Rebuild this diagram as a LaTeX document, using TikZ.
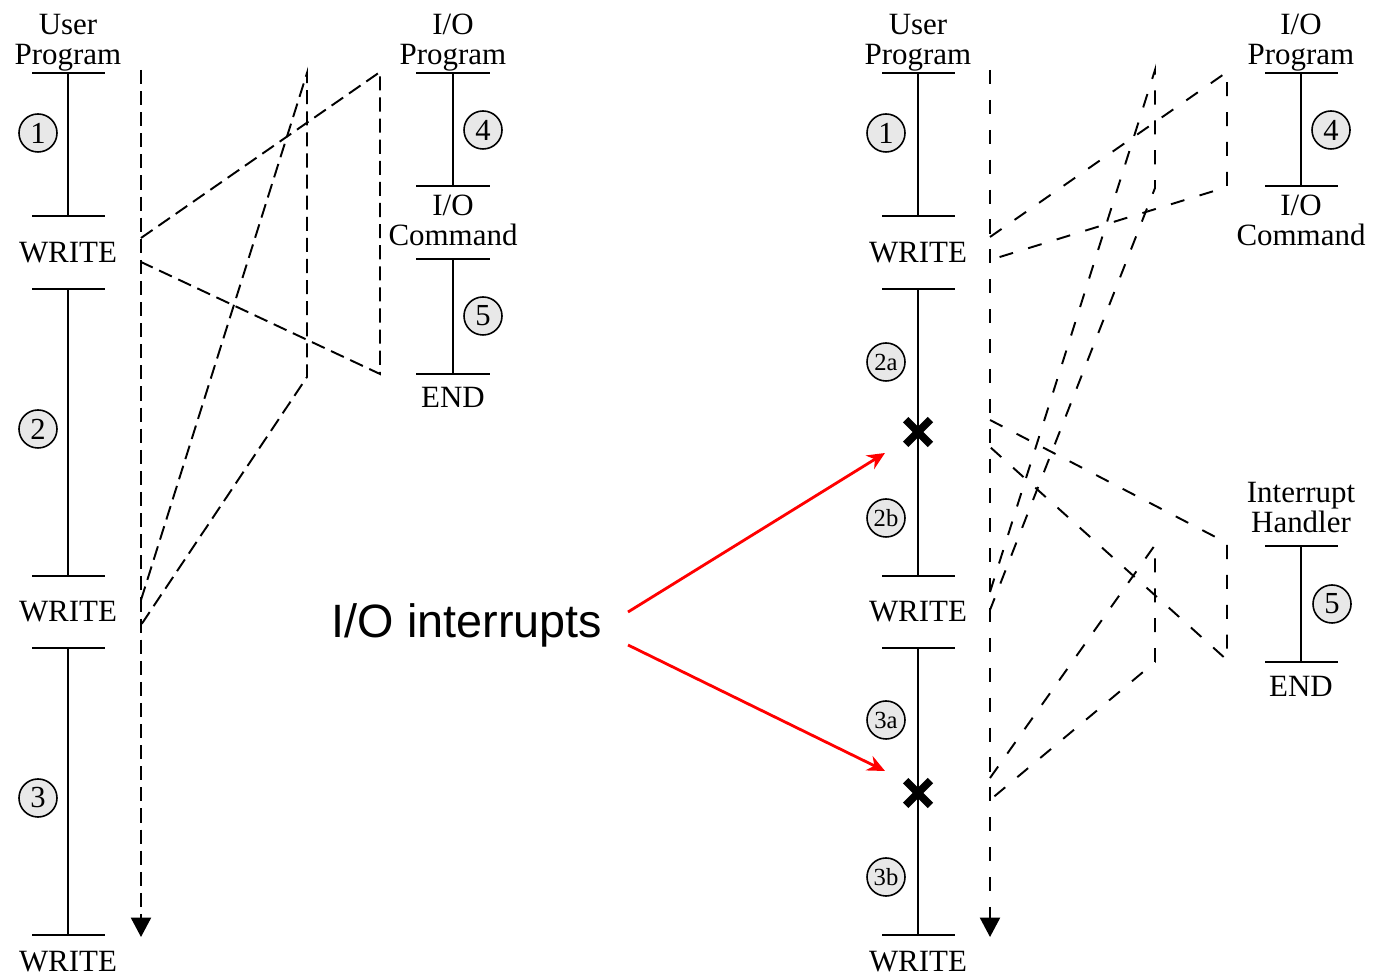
\documentclass[tikz,border=0pt]{standalone}
\usepackage{fontspec}
\setmainfont{Liberation Serif}
\newfontfamily\notefont{Liberation Sans}
\usetikzlibrary{arrows.meta, positioning, shapes.misc}

\tikzset{
	prog/.style={line width=0.6pt},
	numcirc/.style={circle, draw, line width=0.45pt, fill=gray!18, minimum size=0.38cm, inner sep=0pt, font=\fontsize{8.7}{9}\selectfont},
	subcirc/.style={numcirc, font=\fontsize{7}{8}\selectfont},
	lbl/.style={align=center, inner sep=0pt, font=\fontsize{8.8}{8.6}\selectfont},
	flowA/.style={line width=0.55pt, dash pattern=on 4pt off 2pt},
	flowB/.style={line width=0.55pt, dash pattern=on 4pt off 4.5pt},
	xmark/.style={cross out, draw, line width=2.2pt, minimum size=0.17cm, inner sep=0pt},
	irq/.style={red, line width=0.8pt, -{Stealth[length=5pt, width=4.5pt]}}
}

\begin{document}
\begin{tikzpicture}[x={(0.01cm,0cm)}, y={(0cm,-0.01cm)}]
	\useasboundingbox (0,0) rectangle (1373,977);
	
	% ---------- (a) no interrupts ----------
	% user program
	\node[lbl, anchor=south] (uprogA) at (68,72) {User\\Program};
	\foreach \a/\b in {73/216, 289/576, 648/935} {
		\draw[prog] (32,\a) -- (105,\a) (68,\a) -- (68,\b) (32,\b) -- (105,\b);
	}
	\node[lbl] (writeA1) at (68,253) {WRITE};
	\node[lbl] (writeA2) at (68,612) {WRITE};
	\node[lbl] (writeA3) at (68,962) {WRITE};
	\node[numcirc] (segA1) at (38,133) {1};
	\node[numcirc] (segA2) at (38,429) {2};
	\node[numcirc] (segA3) at (38,798) {3};
	
	% I/O program
	\node[lbl, anchor=south] (ioprogA) at (453,72) {I/O\\Program};
	\foreach \a/\b in {73/186, 259/374} {
		\draw[prog] (416,\a) -- (490,\a) (453,\a) -- (453,\b) (416,\b) -- (490,\b);
	}
	\node[lbl, anchor=south] (iocmdA) at (453,247) {I/O\\Command};
	\node[lbl] (endA) at (453,397) {END};
	\node[numcirc] (segA4) at (483,130) {4};
	\node[numcirc] (segA5) at (483,316) {5};
	
	% flow of control
	\coordinate (runA0) at (141,70);
	\coordinate (runA9) at (141,937);
	\coordinate (callA1) at (141,238);
	\coordinate (backA1) at (141,262);
	\coordinate (callA2) at (141,600);
	\coordinate (backA2) at (141,625);
	\coordinate (ioA1top) at (380,72);
	\coordinate (ioA1bot) at (380,374);
	\coordinate (ioA2top) at (307,73);
	\coordinate (ioA2bot) at (307,377);
	\draw[flowA, -{Triangle[length=5.5pt, width=5.7pt]}] (runA0) -- (runA9);
	\draw[flowA] (callA1) -- (ioA1top) -- (ioA1bot) -- (backA1);
	\draw[flowA] (callA2) -- (ioA2top) -- (ioA2bot) -- (backA2);
	
	% ---------- (b) interrupts ----------
	% user program
	\node[lbl, anchor=south] (uprogB) at (918,72) {User\\Program};
	\foreach \a/\b in {73/216, 289/576, 648/935} {
		\draw[prog] (882,\a) -- (955,\a) (918,\a) -- (918,\b) (882,\b) -- (955,\b);
	}
	\node[lbl] (writeB1) at (918,253) {WRITE};
	\node[lbl] (writeB2) at (918,612) {WRITE};
	\node[lbl] (writeB3) at (918,962) {WRITE};
	\node[numcirc] (segB1) at (886,133) {1};
	\node[subcirc] (segB2a) at (886,362) {2a};
	\node[subcirc] (segB2b) at (886,518) {2b};
	\node[subcirc] (segB3a) at (886,720) {3a};
	\node[subcirc] (segB3b) at (886,877) {3b};
	\node[xmark] (stopB1) at (918,432) {};
	\node[xmark] (stopB2) at (918,793) {};
	
	% I/O program
	\node[lbl, anchor=south] (ioprogB) at (1301,72) {I/O\\Program};
	\draw[prog] (1265,73) -- (1338,73) (1301,73) -- (1301,186) (1265,186) -- (1338,186);
	\node[lbl, anchor=south] (iocmdB) at (1301,247) {I/O\\Command};
	\node[numcirc] (segB4) at (1331,130) {4};
	
	% interrupt handler
	\node[lbl, anchor=south] (handler) at (1301,534) {Interrupt\\Handler};
	\draw[prog] (1265,546) -- (1338,546) (1301,546) -- (1301,662) (1265,662) -- (1338,662);
	\node[lbl] (endB) at (1301,686) {END};
	\node[numcirc] (segB5) at (1332,604) {5};
	
	% flow of control
	\coordinate (runB0) at (990,70);
	\coordinate (runB9) at (990,937);
	\coordinate (callB1) at (990,237);
	\coordinate (backB1) at (990,260);
	\coordinate (callB2) at (990,592);
	\coordinate (backB2) at (990,610);
	\coordinate (irqB1) at (990,420);
	\coordinate (retB1) at (990,447);
	\coordinate (irqB2) at (990,778);
	\coordinate (retB2) at (990,800);
	\coordinate (ioB1top) at (1227,72);
	\coordinate (ioB1bot) at (1227,187);
	\coordinate (ioB2top) at (1155,70);
	\coordinate (ioB2bot) at (1155,188);
	\coordinate (hdB1top) at (1227,543);
	\coordinate (hdB1bot) at (1227,660);
	\coordinate (hdB2top) at (1155,545);
	\coordinate (hdB2bot) at (1155,662);
	\draw[flowB, -{Triangle[length=5.5pt, width=5.7pt]}] (runB0) -- (runB9);
	\draw[flowB] (callB1) -- (ioB1top) -- (ioB1bot) -- (backB1);
	\draw[flowB] (callB2) -- (ioB2top) -- (ioB2bot) -- (backB2);
	\draw[flowB] (irqB1) -- (hdB1top) -- (hdB1bot) -- (retB1);
	\draw[flowB] (irqB2) -- (hdB2top) -- (hdB2bot) -- (retB2);
	
	% ---------- annotation ----------
	\node[anchor=base, inner sep=0pt, font=\notefont\fontsize{13.3}{14}\selectfont] (intnote) at (467,638) {I/O interrupts};
	\coordinate (noteout1) at (628,612);
	\coordinate (noteout2) at (628,645);
	\coordinate (notein1) at (885,453);
	\coordinate (notein2) at (885,771);
	\draw[irq] (noteout1) -- (notein1);
	\draw[irq] (noteout2) -- (notein2);
	
\end{tikzpicture}
\end{document}
